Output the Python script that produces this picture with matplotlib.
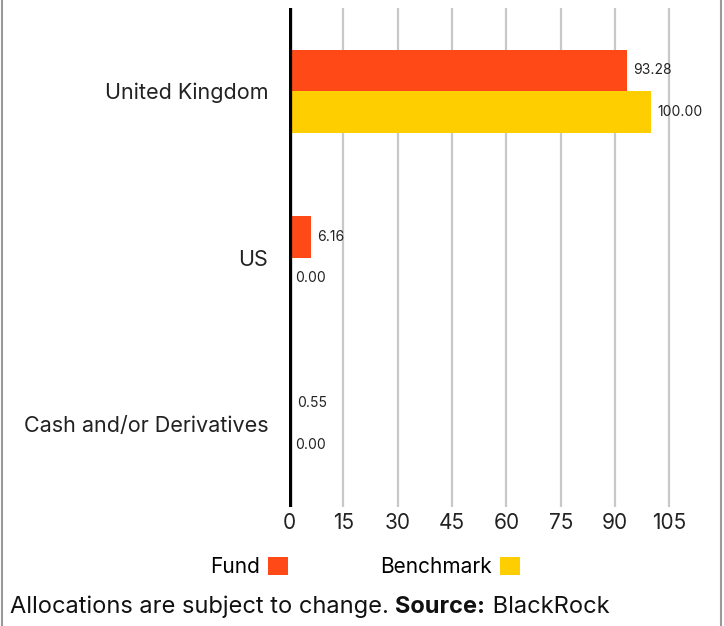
import matplotlib
matplotlib.use("Agg")
import matplotlib.pyplot as plt
from matplotlib.lines import Line2D
import numpy as np

plt.rcParams['font.family'] = ['Inter', 'DejaVu Sans']

categories = ["United Kingdom", "US", "Cash and/or Derivatives"]
fund = [93.28, 6.16, 0.55]
benchmark = [100.00, 0.00, 0.00]
xticks = [0, 15, 30, 45, 60, 75, 90, 105]

FUND_COLOR = "#FF4A17"
BENCH_COLOR = "#FFCE00"

fig = plt.figure(figsize=(7.24, 6.26), dpi=100)
ax = fig.add_axes([289 / 724, 1 - 507 / 626, 384 / 724, 499 / 626])

y = np.arange(len(categories))
h = 0.25
fund_bars = ax.barh(y - h / 2, fund, height=h, color=FUND_COLOR, label="Fund")
bench_bars = ax.barh(y + h / 2, benchmark, height=h, color=BENCH_COLOR, label="Benchmark")

# value labels next to each bar
for bars, vals in [(fund_bars, fund), (bench_bars, benchmark)]:
    for b, v in zip(bars, vals):
        ax.annotate(f"{v:.2f}", (b.get_width(), b.get_y() + b.get_height() / 2),
                    xytext=(4.5, 0), textcoords="offset points",
                    va="center", ha="left", fontsize=10, color="#222222")

ax.set_ylim(len(categories) - 0.5, -0.5)
ax.set_xlim(0, 106)
ax.set_xticks(xticks)
ax.set_yticks(y)
ax.set_yticklabels(categories, fontsize=15.5, color="#222222")
ax.tick_params(axis="both", length=0)
ax.tick_params(axis="y", pad=15)
ax.tick_params(axis="x", pad=4, labelsize=15, labelcolor="#222222")
ax.grid(axis="x", color="#c8c8c8", linewidth=1.6)
ax.set_axisbelow(True)
for s in ax.spines.values():
    s.set_visible(False)
ax.axvline(0, color="black", linewidth=3.8, zorder=5)

# legend
leg = fig.legend(handles=[fund_bars, bench_bars], labels=["Fund", "Benchmark"],
                 loc="center", bbox_to_anchor=(365 / 724, 1 - 567 / 626),
                 ncol=2, frameon=False, markerfirst=False, fontsize=15,
                 handlelength=0.95, handleheight=0.95, handletextpad=0.42,
                 columnspacing=4.4)

# footer with bold "Source:"
fig.canvas.draw()
r = fig.canvas.get_renderer()
x0 = 10 / 724
yf = 1 - 607 / 626
parts = [("Allocations are subject to change. ", "normal"), ("Source:", "bold"), (" BlackRock", "normal")]
xc = x0
for txt, wt in parts:
    t = fig.text(xc, yf, txt, fontsize=17, fontweight=wt, va="center", ha="left", color="#111111")
    bb = t.get_window_extent(renderer=r)
    xc += bb.width / fig.bbox.width

# side border lines
fig.add_artist(Line2D([2 / 724, 2 / 724], [0, 1], color="#999999", linewidth=1.5))
fig.add_artist(Line2D([721 / 724, 721 / 724], [0, 1], color="#999999", linewidth=1.5))

fig.savefig("out.png", dpi=100)
